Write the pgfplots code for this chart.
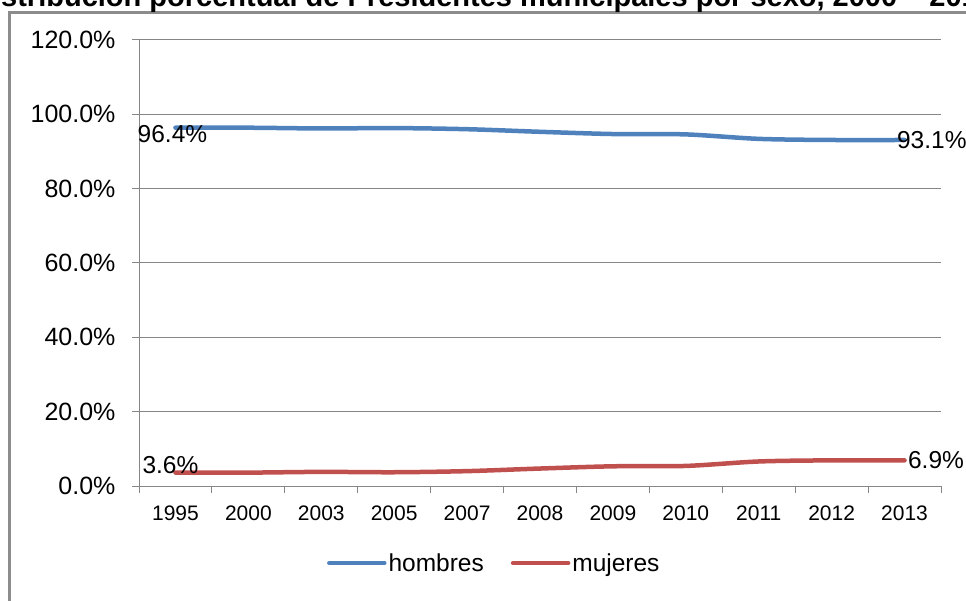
\documentclass[border=0pt]{standalone}
\usepackage{pgfplots}
\pgfplotsset{compat=1.18}
\usepackage{fontspec}
\setmainfont{Liberation Sans}
\definecolor{hblue}{HTML}{4F81BD}
\definecolor{mred}{HTML}{C0504D}
\definecolor{gridgray}{HTML}{868686}
\definecolor{framegray}{HTML}{8C8C8C}
\begin{document}
\begin{tikzpicture}
\path[use as bounding box] (0pt,0pt) rectangle (966pt,600pt);
\clip (0pt,0pt) rectangle (966pt,600pt);
\draw[framegray, line width=3pt] (9pt,-10pt) -- (9pt,587.5pt) -- (980pt,587.5pt);
\node[anchor=base west, inner sep=0pt, font=\bfseries\fontsize{29pt}{32pt}\selectfont] at (1pt,593pt) {\llap{Di}stribución porcentual de Presidentes municipales por sexo, 2000 – 2013};
\begin{axis}[
  at={(139pt,114pt)}, anchor=south west,
  scale only axis, width=802pt, height=446pt,
  xmin=-0.5, xmax=10.5, ymin=0, ymax=120,
  axis x line=bottom, axis y line=left,
  axis line style={-, gridgray, line width=1pt},
  tick align=outside, major tick length=7pt,
  tick style={gridgray, line width=1pt},
  ymajorgrids, grid style={gridgray, line width=1pt},
  ytick={0,20,...,120},
  yticklabels={0.0\%,20.0\%,40.0\%,60.0\%,80.0\%,100.0\%,120.0\%},
  xtick={-0.5,0.5,...,10.5},
  xticklabels={1995,2000,2003,2005,2007,2008,2009,2010,2011,2012,2013,{}},
  xticklabel style={xshift=36.45pt, yshift=-9pt, font=\fontsize{21pt}{24pt}\selectfont},
  yticklabel style={xshift=-13pt, font=\fontsize{25pt}{28pt}\selectfont},
  clip=false,
  legend columns=2,
  legend style={at={(0.443,-0.1726)}, anchor=center, draw=none,
    font=\fontsize{24.5pt}{28pt}\selectfont,
    /tikz/every even column/.append style={column sep=25pt}},
  legend image code/.code={\draw[#1, line cap=round] (0pt,0pt) -- (55pt,0pt);},
]
\addplot[hblue, line width=4.5pt, smooth, line cap=round] coordinates {(0,96.4)(1,96.4)(2,96.2)(3,96.3)(4,96.0)(5,95.3)(6,94.7)(7,94.6)(8,93.4)(9,93.1)(10,93.1)};
\addlegendentry{hombres}
\addplot[mred, line width=4.5pt, smooth, line cap=round] coordinates {(0,3.6)(1,3.6)(2,3.8)(3,3.7)(4,4.0)(5,4.7)(6,5.3)(7,5.4)(8,6.6)(9,6.9)(10,6.9)};
\addlegendentry{mujeres}
\node[font=\fontsize{24.5pt}{28pt}\selectfont, anchor=center, xshift=-3pt, yshift=-6pt] at (axis cs:0,96.4) {96.4\%};
\node[font=\fontsize{24.5pt}{28pt}\selectfont, anchor=west, xshift=-11pt] at (axis cs:10,93.1) {93.1\%};
\node[font=\fontsize{24.5pt}{28pt}\selectfont, anchor=center, xshift=-5pt, yshift=8pt] at (axis cs:0,3.6) {3.6\%};
\node[font=\fontsize{24.5pt}{28pt}\selectfont, anchor=west, xshift=0pt] at (axis cs:10,6.9) {6.9\%};
\end{axis}
\end{tikzpicture}
\end{document}
